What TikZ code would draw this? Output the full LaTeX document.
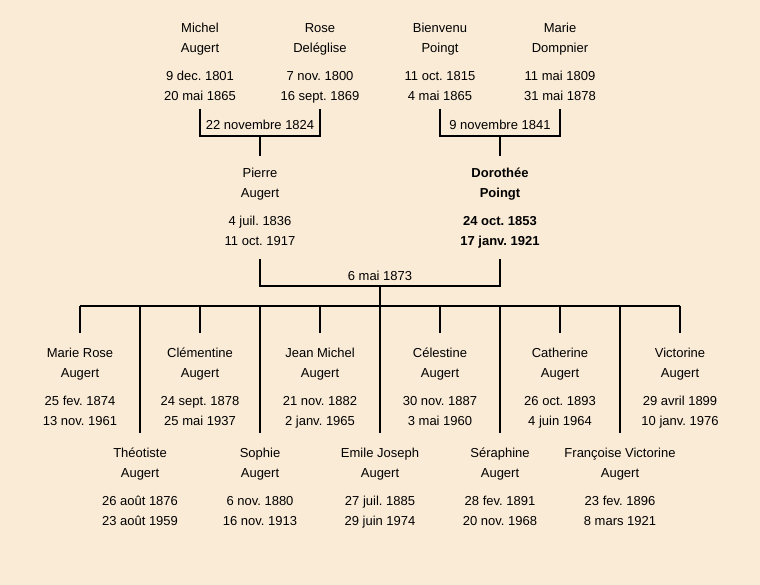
\documentclass[tikz,border=0pt]{standalone}
\usepackage{fontspec}
\setmainfont{Liberation Sans}
\usepackage{tikz}
\definecolor{parchment}{RGB}{250,235,215}
\frenchspacing

% name on two lines, then birth and death
\newcommand{\who}[4]{\strut#1\\#2\\[6pt]#3\\#4\strut}

\begin{document}
\begin{tikzpicture}[x=0.75pt,y=-0.75pt]
\fill[parchment] (0,0) rectangle (760,585);
\useasboundingbox (0,0) rectangle (760,585);

\begin{scope}[every node/.style={align=center,anchor=north,inner xsep=0pt,inner ysep=1.5pt,
              font=\fontsize{9.75}{15}\selectfont}]
    \node (michel) at (200,16) {\who{Michel}{Augert}{9 dec. 1801}{20 mai 1865}};
    \node (rose) at (320,16) {\who{Rose}{Deléglise}{7 nov. 1800}{16 sept. 1869}};
    \node (bienvenu) at (440,16) {\who{Bienvenu}{Poingt}{11 oct. 1815}{4 mai 1865}};
    \node (marie) at (560,16) {\who{Marie}{Dompnier}{11 mai 1809}{31 mai 1878}};

    \node (pierre) at (260,161.3) {\who{Pierre}{Augert}{4 juil. 1836}{11 oct. 1917}};
    \node[font=\fontsize{9.75}{15}\selectfont\bfseries] (dorothee) at (500,161.3)
        {\who{Dorothée}{Poingt}{24 oct. 1853}{17 janv. 1921}};

    \node (marierose) at (80,341.3) {\who{Marie Rose}{Augert}{25 fev. 1874}{13 nov. 1961}};
    \node (clementine) at (200,341.3) {\who{Clémentine}{Augert}{24 sept. 1878}{25 mai 1937}};
    \node (jeanmichel) at (320,341.3) {\who{Jean Michel}{Augert}{21 nov. 1882}{2 janv. 1965}};
    \node (celestine) at (440,341.3) {\who{Célestine}{Augert}{30 nov. 1887}{3 mai 1960}};
    \node (catherine) at (560,341.3) {\who{Catherine}{Augert}{26 oct. 1893}{4 juin 1964}};
    \node (victorine) at (680,341.3) {\who{Victorine}{Augert}{29 avril 1899}{10 janv. 1976}};

    \node (theotiste) at (140,441.3) {\who{Théotiste}{Augert}{26 août 1876}{23 août 1959}};
    \node (sophie) at (260,441.3) {\who{Sophie}{Augert}{6 nov. 1880}{16 nov. 1913}};
    \node (emile) at (380,441.3) {\who{Emile Joseph}{Augert}{27 juil. 1885}{29 juin 1974}};
    \node (seraphine) at (500,441.3) {\who{Séraphine}{Augert}{28 fev. 1891}{20 nov. 1968}};
    \node (francoise) at (620,441.3) {\who{Françoise Victorine}{Augert}{23 fev. 1896}{8 mars 1921}};
\end{scope}

\begin{scope}[every node/.style={inner sep=1pt,font=\fontsize{9.75}{15}\selectfont}]
    \node (wed1824) at (260,125) {22 novembre 1824};
    \node (wed1841) at (500,125) {9 novembre 1841};
    \node (wed1873) at (380,275.7) {6 mai 1873};
\end{scope}

\coordinate (j1) at (260,135.7);
\coordinate (j2) at (500,135.7);
\coordinate (j3) at (380,285.7);
\coordinate (kids) at (380,305.7);

\begin{scope}[line width=1.5pt]
    \draw (michel.south) |- (j1) -| (rose.south);
    \draw (bienvenu.south) |- (j2) -| (marie.south);
    \draw (j1) -- ([yshift=4pt]pierre.north);
    \draw (j2) -- ([yshift=4pt]dorothee.north);
    \draw ([yshift=-3.75pt]pierre.south) |- (j3) -| ([yshift=-3.75pt]dorothee.south);
    \draw (j3) -- (kids);
    \draw (marierose |- kids) -- (victorine |- kids);
    \foreach \c in {marierose,clementine,jeanmichel,celestine,catherine,victorine}
        \draw (\c |- kids) -- ([yshift=6pt]\c.north);
    \foreach \c in {theotiste,sophie,emile,seraphine,francoise}
        \draw (\c |- kids) -- ([yshift=6pt]\c.north);
\end{scope}
\end{tikzpicture}
\end{document}
